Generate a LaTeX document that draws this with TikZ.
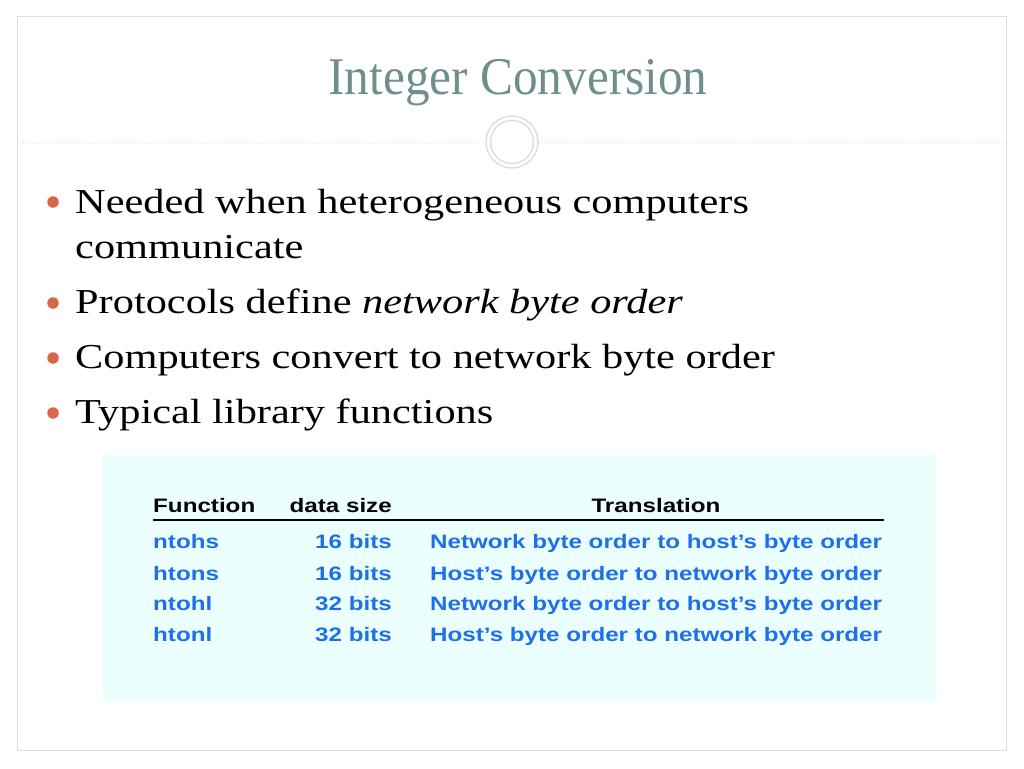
\documentclass[tikz,border=0pt]{standalone}
\usepackage{fontspec}
\setmainfont{Liberation Serif}
\newfontfamily\titlefont[FakeStretch=0.93]{Liberation Serif}
\newfontfamily\bodyfont[FakeStretch=1.21]{Liberation Serif}
\newfontfamily\tabfont[FakeStretch=1.24]{Liberation Sans}
\definecolor{titlegray}{RGB}{111,143,143}
\definecolor{bulletred}{RGB}{217,102,72}
\definecolor{framegray}{RGB}{222,222,222}
\definecolor{tablecyan}{RGB}{236,255,255}
\definecolor{tabblue}{RGB}{30,112,232}
\tikzset{
  slidetitle/.style={anchor=base, inner sep=0pt, text=titlegray, font=\titlefont\fontsize{53}{64}\selectfont},
  itemtext/.style={anchor=base west, inner sep=0pt, font=\bodyfont\fontsize{35}{42}\selectfont},
  itemdot/.style={circle, fill=bulletred, inner sep=0pt, minimum size=11.5pt},
  tabhead/.style={inner sep=0pt, font=\tabfont\bfseries\fontsize{19.5}{23}\selectfont},
  tabcell/.style={tabhead, text=tabblue},
}
\begin{document}
\begin{tikzpicture}[x=1pt, y=-1pt]
                    \useasboundingbox (0,0) rectangle (1024,768);
                    % frame and title ornament
                    \draw[framegray, line width=1pt] (17,17) rectangle (1006,750);
                    \node (orn) at (512,142) [circle, draw=framegray, line width=1.5pt, minimum size=52pt, inner sep=0pt] {};
                    \node at (512,142) [circle, draw=framegray, line width=1.5pt, minimum size=43pt, inner sep=0pt] {};
                    \coordinate (ruleL) at (17,142);
                    \coordinate (ruleR) at (1006,142);
                    \draw[framegray, dotted, line width=0.8pt] (ruleL) -- (orn.west);
                    \draw[framegray, dotted, line width=0.8pt] (orn.east) -- (ruleR);
                    \node (title) at (518,94) [slidetitle] {Integer Conversion};
                    % bullets
                    \node (d1) at (53,202) [itemdot] {};
                    \node (t1) at (75,213) [itemtext] {Needed when heterogeneous computers};
                    \node (t1b) at (75,258) [itemtext] {communicate};
                    \node (d2) at (53,303) [itemdot] {};
                    \node (t2) at (75,313) [itemtext] {Protocols define \textit{network byte order}};
                    \node (d3) at (53,358) [itemdot] {};
                    \node (t3) at (75,368) [itemtext] {Computers convert to network byte order};
                    \node (d4) at (53,413) [itemdot] {};
                    \node (t4) at (75,423) [itemtext] {Typical library functions};
                    % table
                    \fill[tablecyan] (103,455) rectangle (936,702);
                    \node (hfun) at (153,512) [tabhead, anchor=base west] {Function};
                    \node (hsize) at (392,512) [tabhead, anchor=base east] {data size};
                    \node (htrans) at (656,512) [tabhead, anchor=base] {Translation};
                    \draw[line width=2pt] (153,520) -- (884,520);
                    \node (f1) at (153,548) [tabcell, anchor=base west] {ntohs};
                    \node (s1) at (392,548) [tabcell, anchor=base east] {16 bits};
                    \node (r1) at (430,548) [tabcell, anchor=base west] {Network byte order to host’s byte order};
                    \node (f2) at (153,580) [tabcell, anchor=base west] {htons};
                    \node (s2) at (392,580) [tabcell, anchor=base east] {16 bits};
                    \node (r2) at (430,580) [tabcell, anchor=base west] {Host’s byte order to network byte order};
                    \node (f3) at (153,610) [tabcell, anchor=base west] {ntohl};
                    \node (s3) at (392,610) [tabcell, anchor=base east] {32 bits};
                    \node (r3) at (430,610) [tabcell, anchor=base west] {Network byte order to host’s byte order};
                    \node (f4) at (153,641) [tabcell, anchor=base west] {htonl};
                    \node (s4) at (392,641) [tabcell, anchor=base east] {32 bits};
                    \node (r4) at (430,641) [tabcell, anchor=base west] {Host’s byte order to network byte order};
\end{tikzpicture}
\end{document}
